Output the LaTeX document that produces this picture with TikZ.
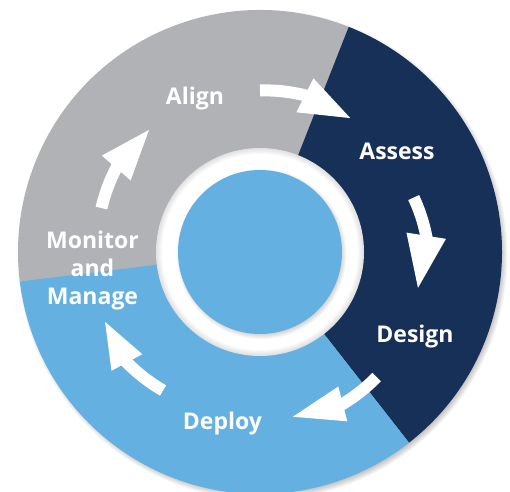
\documentclass[tikz,border=0pt]{standalone}
\usepackage{fontspec}
\newfontfamily\lblfont{Open Sans}
\usetikzlibrary{calc}
\definecolor{ringgray}{HTML}{B1B2B5}
\definecolor{ringnavy}{HTML}{163058}
\definecolor{ringblue}{HTML}{64B0E0}
\tikzset{
  lbl/.style={text=white, font=\lblfont\bfseries\fontsize{23}{28}\selectfont, inner sep=0pt, anchor=base},
  shaft/.style={draw=white, line width=12pt, line cap=butt},
  headfill/.style={fill=white},
  softshade/.style={fill=black, opacity=0.035},
}
\newcommand\ringarrow[7]{% a0 r0 a1 r1 a2 r2 halfwidth
  \draw[shaft] plot[domain=0:1.12, samples=20] ({(#1)+((#3)-(#1))*\x}:{(#2)+((#4)-(#2))*\x});
  \coordinate (hb) at (#3:#4);
  \coordinate (ht) at (#5:#6);
  \fill[headfill] ($(hb)!#7!90:(ht)$) -- (ht) -- ($(hb)!#7!-90:(ht)$) -- cycle;
}
\begin{document}
\begin{tikzpicture}[x=1pt, y=1pt]
\useasboundingbox (0,0) rectangle (510,491);
\fill[white] (0,0) rectangle (510,491);
\begin{scope}[shift={(260,239)}]
  % outer soft shadow
  \foreach \k in {0,...,6} \fill[softshade] (2.5,-3) circle ({239+\k});
  % sectors
  \fill[ringgray] (0,0) -- (68.5:242) arc[start angle=68.5, end angle=187, radius=242] -- cycle;
  \fill[ringnavy] (0,0) -- (-52:242) arc[start angle=-52, end angle=68.5, radius=242] -- cycle;
  \fill[ringblue] (0,0) -- (187:242) arc[start angle=187, end angle=308, radius=242] -- cycle;
  % white ring with inner edge shading
  \fill[white] (0,0) circle (104);
  \foreach \k in {1,...,6} \fill[black, opacity=0.018, even odd rule] (0,0) circle (104) (0,0) circle ({104-\k});
  % centre disc with soft shadow
  \foreach \k in {0,...,5} \fill[black, opacity=0.03] (1.5,-2) circle ({80+\k});
  \fill[ringblue] (0,0) circle (82);
  % arrows
  \ringarrow{90}{161.5}{74}{163}{56}{161.5}{19pt}
  \ringarrow{19.5}{163}{5.6}{167}{-12.8}{162}{20pt}
  \ringarrow{-47}{171}{-61.4}{173}{-78.7}{168}{18pt}
  \ringarrow{235}{169}{219.7}{173}{204.3}{170}{17.5pt}
  \ringarrow{164.5}{164.5}{149.7}{166.5}{132.3}{165}{19pt}
\end{scope}
% labels
\node[lbl] (align) at (195,387) {Align};
\node[lbl] (assess) at (397,332) {Assess};
\node[lbl] (design) at (415,149) {Design};
\node[lbl] (deploy) at (222.5,62) {Deploy};
\node[lbl] (monitor) at (92.5,243) {Monitor};
\node[lbl] (and) at (92.5,215) {and};
\node[lbl] (manage) at (92.5,187) {Manage};
\end{tikzpicture}
\end{document}
